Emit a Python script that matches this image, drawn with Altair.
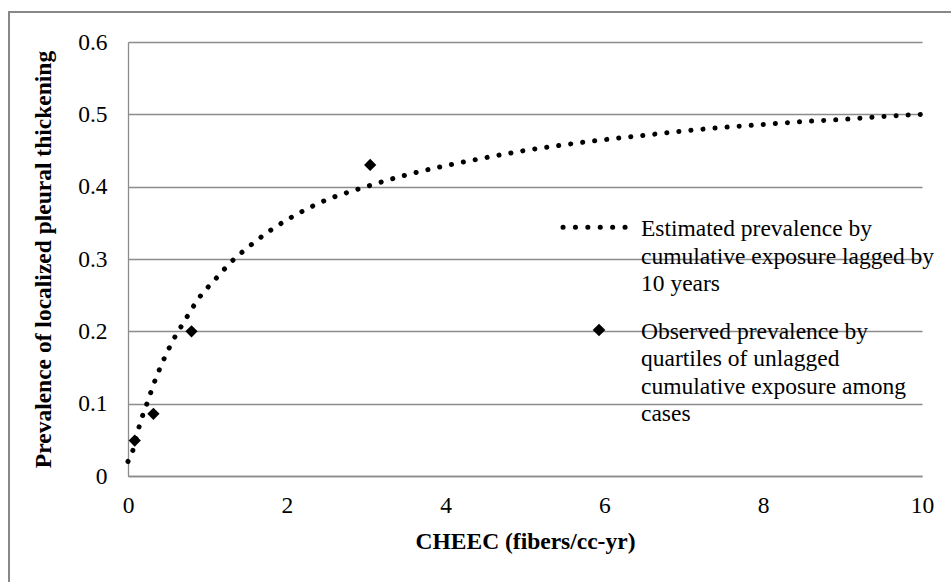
import altair as alt
import pandas as pd

# Estimated prevalence curve (lagged cumulative exposure)
curve_x = [0, 0.06, 0.12, 0.16, 0.21, 0.26, 0.32, 0.43, 0.56, 0.71, 0.9, 1.1, 1.3,
           1.52, 1.76, 2.0, 2.27, 2.4, 3.0, 3.5, 4.0, 4.5, 5.0, 5.5, 6.0, 6.5, 7.0,
           7.5, 8.0, 8.5, 9.0, 9.5, 10.0]
curve_y = [0.02, 0.035, 0.06, 0.076, 0.091, 0.107, 0.126, 0.156, 0.186, 0.214, 0.247,
           0.272, 0.296, 0.317, 0.337, 0.354, 0.370, 0.377, 0.400, 0.416, 0.429, 0.440,
           0.450, 0.458, 0.465, 0.471, 0.477, 0.482, 0.486, 0.490, 0.493, 0.497, 0.500]

# Observed prevalence by quartiles of unlagged exposure
obs_x = [0.085, 0.32, 0.80, 3.05]
obs_y = [0.049, 0.086, 0.200, 0.430]

x_ticks = [0, 2, 4, 6, 8, 10]
y_ticks = [0, 0.1, 0.2, 0.3, 0.4, 0.5, 0.6]

legend_labels = [
    "Estimated prevalence by\ncumulative exposure lagged by\n10 years",
    "Observed prevalence by\nquartiles of unlagged\ncumulative exposure among\ncases",
]

FONT = "Liberation Serif"
FS = 23.5
GRID = "#8c8c8c"
W, H = 794, 434

curve_df = pd.DataFrame({"x": curve_x, "y": curve_y})
obs_df = pd.DataFrame({"x": obs_x, "y": obs_y})

x_scale = alt.Scale(domain=[0, 10], nice=False, zero=False)
y_scale = alt.Scale(domain=[0, 0.6], nice=False)

x_enc = alt.X(
    "x:Q", scale=x_scale,
    axis=alt.Axis(
        values=x_ticks, format="d", labelFlush=False, grid=False, ticks=False,
        domain=True, domainColor=GRID, domainWidth=1.3, labelPadding=17,
        title="CHEEC (fibers/cc-yr)", titleX=W / 2, titleY=65,
        titleAlign="center", titleBaseline="middle",
    ),
)
y_enc = alt.Y(
    "y:Q", scale=y_scale,
    axis=alt.Axis(
        values=y_ticks, labelFlush=False, grid=True, gridColor=GRID, gridWidth=1.3,
        ticks=False, domain=True, domainColor=GRID, domainWidth=1.3,
        labelPadding=21,
        labelExpr="datum.value == 0 ? '0' : format(datum.value, '.1f')",
        title="Prevalence of localized pleural thickening",
        titleX=-85, titleY=H / 2, titleAngle=-90,
        titleAlign="center", titleBaseline="middle",
    ),
)

curve = alt.Chart(curve_df).mark_line(
    color="black", strokeWidth=5, strokeCap="round",
    strokeDash=[0.1, 12], interpolate="monotone",
).encode(x=x_enc, y=y_enc)

points = alt.Chart(obs_df).mark_point(
    shape="diamond", filled=True, color="black", size=150, opacity=1,
).encode(x="x:Q", y="y:Q")

one = pd.DataFrame({"k": [0]})

# outer frame around the figure
frame = alt.Chart(one).mark_rect(
    fill=None, stroke="#888888", strokeWidth=2,
).encode(
    x=alt.value(-119), x2=alt.value(900),
    y=alt.value(-30), y2=alt.value(600),
)

# legend: dotted line sample, diamond sample and wrapped labels
leg_line = alt.Chart(one).mark_rule(
    color="black", strokeWidth=5, strokeCap="round", strokeDash=[0.1, 12.3],
).encode(x=alt.value(435), x2=alt.value(498), y=alt.value(185.3))

leg_diamond = alt.Chart(one).mark_point(
    shape="diamond", filled=True, color="black", size=160, opacity=1,
).encode(x=alt.value(471), y=alt.value(288))

leg_text1 = alt.Chart(one).mark_text(
    text=legend_labels[0], lineBreak="\n", lineHeight=27.5, align="left",
    baseline="alphabetic", font=FONT, fontSize=FS, color="black",
).encode(x=alt.value(513), y=alt.value(194))

leg_text2 = alt.Chart(one).mark_text(
    text=legend_labels[1], lineBreak="\n", lineHeight=27.5, align="left",
    baseline="alphabetic", font=FONT, fontSize=FS, color="black",
).encode(x=alt.value(513), y=alt.value(296.5))

chart = alt.layer(
    frame, curve, points, leg_line, leg_diamond, leg_text1, leg_text2
).properties(
    width=W, height=H,
    autosize=alt.AutoSizeParams(type="none"),
    padding={"left": 128, "top": 42, "right": 29, "bottom": 106},
    background="white",
).configure_view(
    stroke=None,
).configure_axis(
    labelFont=FONT, labelFontSize=FS, labelColor="black",
    titleFont=FONT, titleFontSize=FS, titleFontWeight="bold", titleColor="black",
)

chart.save("out.html", embed_options={"renderer": "svg", "actions": False})
